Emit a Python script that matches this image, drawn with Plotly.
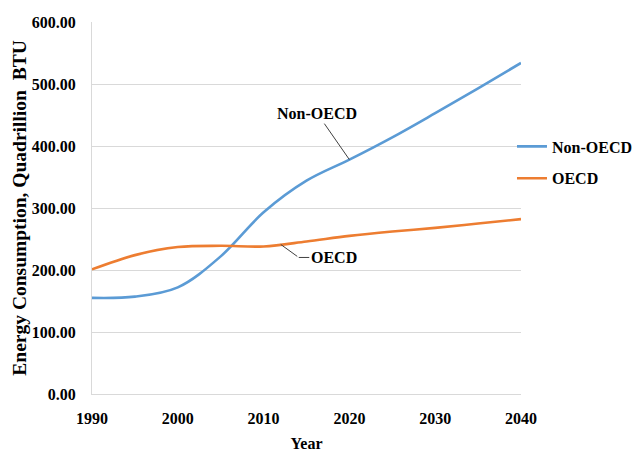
import numpy as np
import plotly.graph_objects as go

years = [1990, 1995, 2000, 2005, 2010, 2015, 2020, 2025, 2030, 2035, 2040]
non_oecd = [155, 157, 172, 222, 293, 344, 378, 414, 453, 493, 534]
oecd = [201, 224, 237, 239, 238, 246, 255, 262, 268, 275, 282]
series_names = ["Non-OECD", "OECD"]
colors = ["#5B9BD5", "#ED7D31"]
y_ticks = [0, 100, 200, 300, 400, 500, 600]
x_ticks = [1990, 2000, 2010, 2020, 2030, 2040]

FONT = "Liberation Serif"

fig = go.Figure()
for name, vals, col in zip(series_names, [non_oecd, oecd], colors):
    fig.add_trace(go.Scatter(
        x=years, y=vals, name=name, mode="lines",
        line=dict(color=col, width=2.6, shape="spline", smoothing=1.0),
        legendgroup=name,
    ))

# label positions derived from data
non_x = 2020
non_y = float(np.interp(non_x, years, non_oecd))
oe_x = 2012
oe_y = float(np.interp(oe_x, years, oecd))

annots = [
    dict(x=non_x, y=non_y, xref="x", yref="y", text="Non-OECD", showarrow=True,
         ax=-32, ay=-46, arrowhead=0, arrowwidth=1, arrowcolor="#404040",
         font=dict(family=FONT, size=16, color="black", weight="bold")),
    dict(x=oe_x, y=oe_y, xref="x", yref="y", text="", showarrow=True,
         ax=18, ay=13, arrowhead=0, arrowwidth=1, arrowcolor="#404040"),
    dict(x=oe_x, y=oe_y, xref="x", yref="y", text="OECD", showarrow=True,
         xshift=18, yshift=-13, ax=35, ay=0, arrowhead=0, arrowwidth=1,
         arrowcolor="#404040",
         font=dict(family=FONT, size=16, color="black", weight="bold")),
    # y-axis title
    dict(x=-0.171, y=0.5, xref="paper", yref="paper", xanchor="center", yanchor="middle",
         text="Energy Consumption, Quadrillion\u00a0 BTU", textangle=-90, showarrow=False,
         font=dict(family=FONT, size=19.5, color="black", weight="bold")),
]

fig.update_layout(
    width=632, height=452,
    margin=dict(l=92, r=111, t=22, b=58, autoexpand=False),
    paper_bgcolor="white", plot_bgcolor="white",
    font=dict(family=FONT, size=16, color="black", weight="bold"),
    showlegend=True,
    legend=dict(x=0.979, y=0.711, xanchor="left", yanchor="top",
                font=dict(family=FONT, size=16, color="black", weight="bold"),
                bgcolor="rgba(0,0,0,0)", tracegroupgap=8, traceorder="grouped"),
    annotations=annots,
    xaxis=dict(range=[1990, 2040], tickvals=x_ticks, showgrid=False,
               showline=True, linecolor="#D9D9D9", linewidth=1,
               zeroline=False, ticks="", ticklabelstandoff=10, automargin=False,
               tickfont=dict(family=FONT, size=16, color="black", weight="bold"),
               title=dict(text="Year", standoff=12,
                          font=dict(family=FONT, size=16, color="black", weight="bold"))),
    yaxis=dict(range=[0, 600], tickvals=y_ticks, tickformat=".2f",
               showgrid=True, gridcolor="#D9D9D9", gridwidth=1,
               showline=True, linecolor="#D9D9D9", linewidth=1,
               zeroline=False, ticks="", ticklabelstandoff=12, automargin=False,
               tickfont=dict(family=FONT, size=16, color="black", weight="bold")),
)

fig.write_html("out.html")
